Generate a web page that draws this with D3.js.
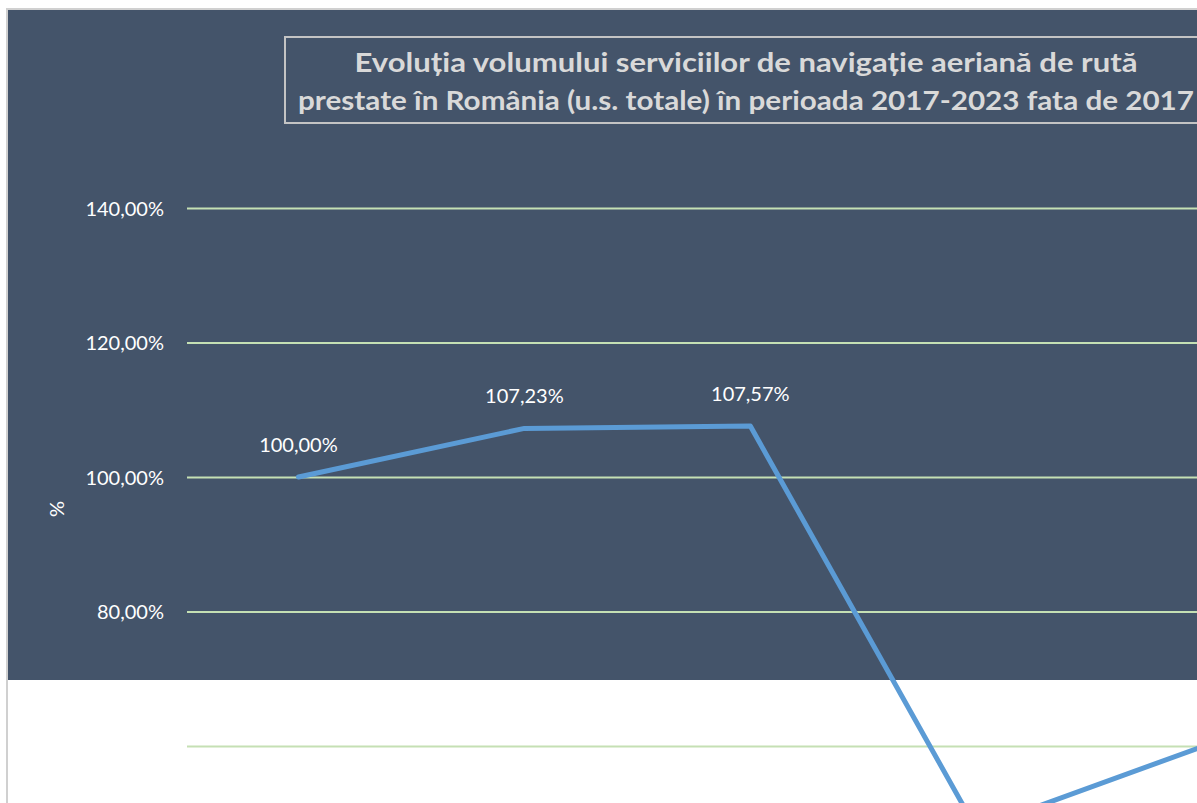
<!DOCTYPE html>
<html>
<head>
<meta charset="utf-8">
<script src="https://cdn.jsdelivr.net/npm/d3@7"></script>
<style>
  html, body { margin: 0; padding: 0; background: #ffffff; overflow: hidden; }
  svg { display: block; }
</style>
</head>
<body>
<svg id="chart" width="1197" height="803"></svg>
<script>
// ---- data ----
const categories = ["2017", "2018", "2019", "2020", "2021", "2022", "2023"];
const seriesValues = [100.00, 107.23, 107.57, 47.7, 59.9];
const yTicks = [0, 20, 40, 60, 80, 100, 120, 140];
const titleLines = [
  "Evoluția volumului serviciilor de navigație aeriană de rută",
  "prestate în România (u.s. totale) în perioada 2017-2023 fata de 2017"
];
const axisTitle = "%";

// ---- setup ----
const svg = d3.select("#chart");
const W = 1197, H = 803;
const roLocale = d3.formatLocale({ decimal: ",", thousands: ".", grouping: [3], currency: ["", " lei"] });
const pct = v => roLocale.format(".2f")(v) + "%";

const plotLeft = 187, plotRight = 1767;
const x = d3.scalePoint().domain(categories).range([plotLeft - 1.5, plotRight]).padding(0.5);
const y = d3.scaleLinear().domain([100, 140]).range([477, 208]);

// background pieces
svg.append("rect").attr("x", 0).attr("y", 0).attr("width", W).attr("height", H).attr("fill", "#ffffff");
svg.append("rect").attr("x", 8).attr("y", 10).attr("width", W - 8).attr("height", 670).attr("fill", "#44546a");
// outer chart border
svg.append("path").attr("d", `M7,${H} V9 H${W}`).attr("fill", "none").attr("stroke", "#d0d0d0").attr("stroke-width", 2);

// gridlines via axis
const yAxis = d3.axisLeft(y).tickValues(yTicks).tickSize(-(plotRight - plotLeft)).tickFormat(d => pct(d)).tickPadding(23);
const gAxis = svg.append("g").attr("transform", `translate(${plotLeft},0)`).call(yAxis);
gAxis.select(".domain").remove();
gAxis.selectAll(".tick line").attr("stroke", "#c5e0b4").attr("stroke-width", 2);
gAxis.selectAll(".tick text")
  .attr("fill", "#ffffff")
  .attr("font-family", "Lato, 'Open Sans', sans-serif")
  .attr("font-size", 20)
  .attr("dy", "0.36em");

// title box
svg.append("rect").attr("x", 285).attr("y", 37).attr("width", 1000).attr("height", 86)
  .attr("fill", "none").attr("stroke", "#c4c4c4").attr("stroke-width", 2);
const titleW = [783, 896];
const titleBase = [72, 110];
titleLines.forEach((t, i) => {
  svg.append("text")
    .attr("x", 746).attr("y", titleBase[i])
    .attr("text-anchor", "middle")
    .attr("font-family", "Lato, 'Open Sans', sans-serif")
    .attr("font-weight", "bold")
    .attr("font-size", 26)
    .attr("fill", "#d9d9d9")
    .attr("textLength", titleW[i])
    .attr("lengthAdjust", "spacingAndGlyphs")
    .text(t);
});

const pts = seriesValues.map((v, i) => ({ cat: categories[i], v }));

// data labels (drawn beneath the line)
svg.append("g").selectAll("text").data(pts).join("text")
  .attr("x", d => x(d.cat))
  .attr("y", d => y(d.v) - 25)
  .attr("text-anchor", "middle")
  .attr("font-family", "Lato, 'Open Sans', sans-serif")
  .attr("font-size", 20)
  .attr("fill", "#ffffff")
  .text(d => pct(d.v));

// line
const line = d3.line().x(d => x(d.cat)).y(d => y(d.v));
svg.append("path").datum(pts)
  .attr("d", line)
  .attr("fill", "none")
  .attr("stroke", "#5b9bd5")
  .attr("stroke-width", 5)
  .attr("stroke-linejoin", "round")
  .attr("stroke-linecap", "round");

// y axis title
svg.append("text")
  .attr("transform", "translate(64,509) rotate(-90)")
  .attr("text-anchor", "middle")
  .attr("font-family", "Lato, 'Open Sans', sans-serif")
  .attr("font-size", 20)
  .attr("fill", "#ffffff")
  .text(axisTitle);
</script>
</body>
</html>
